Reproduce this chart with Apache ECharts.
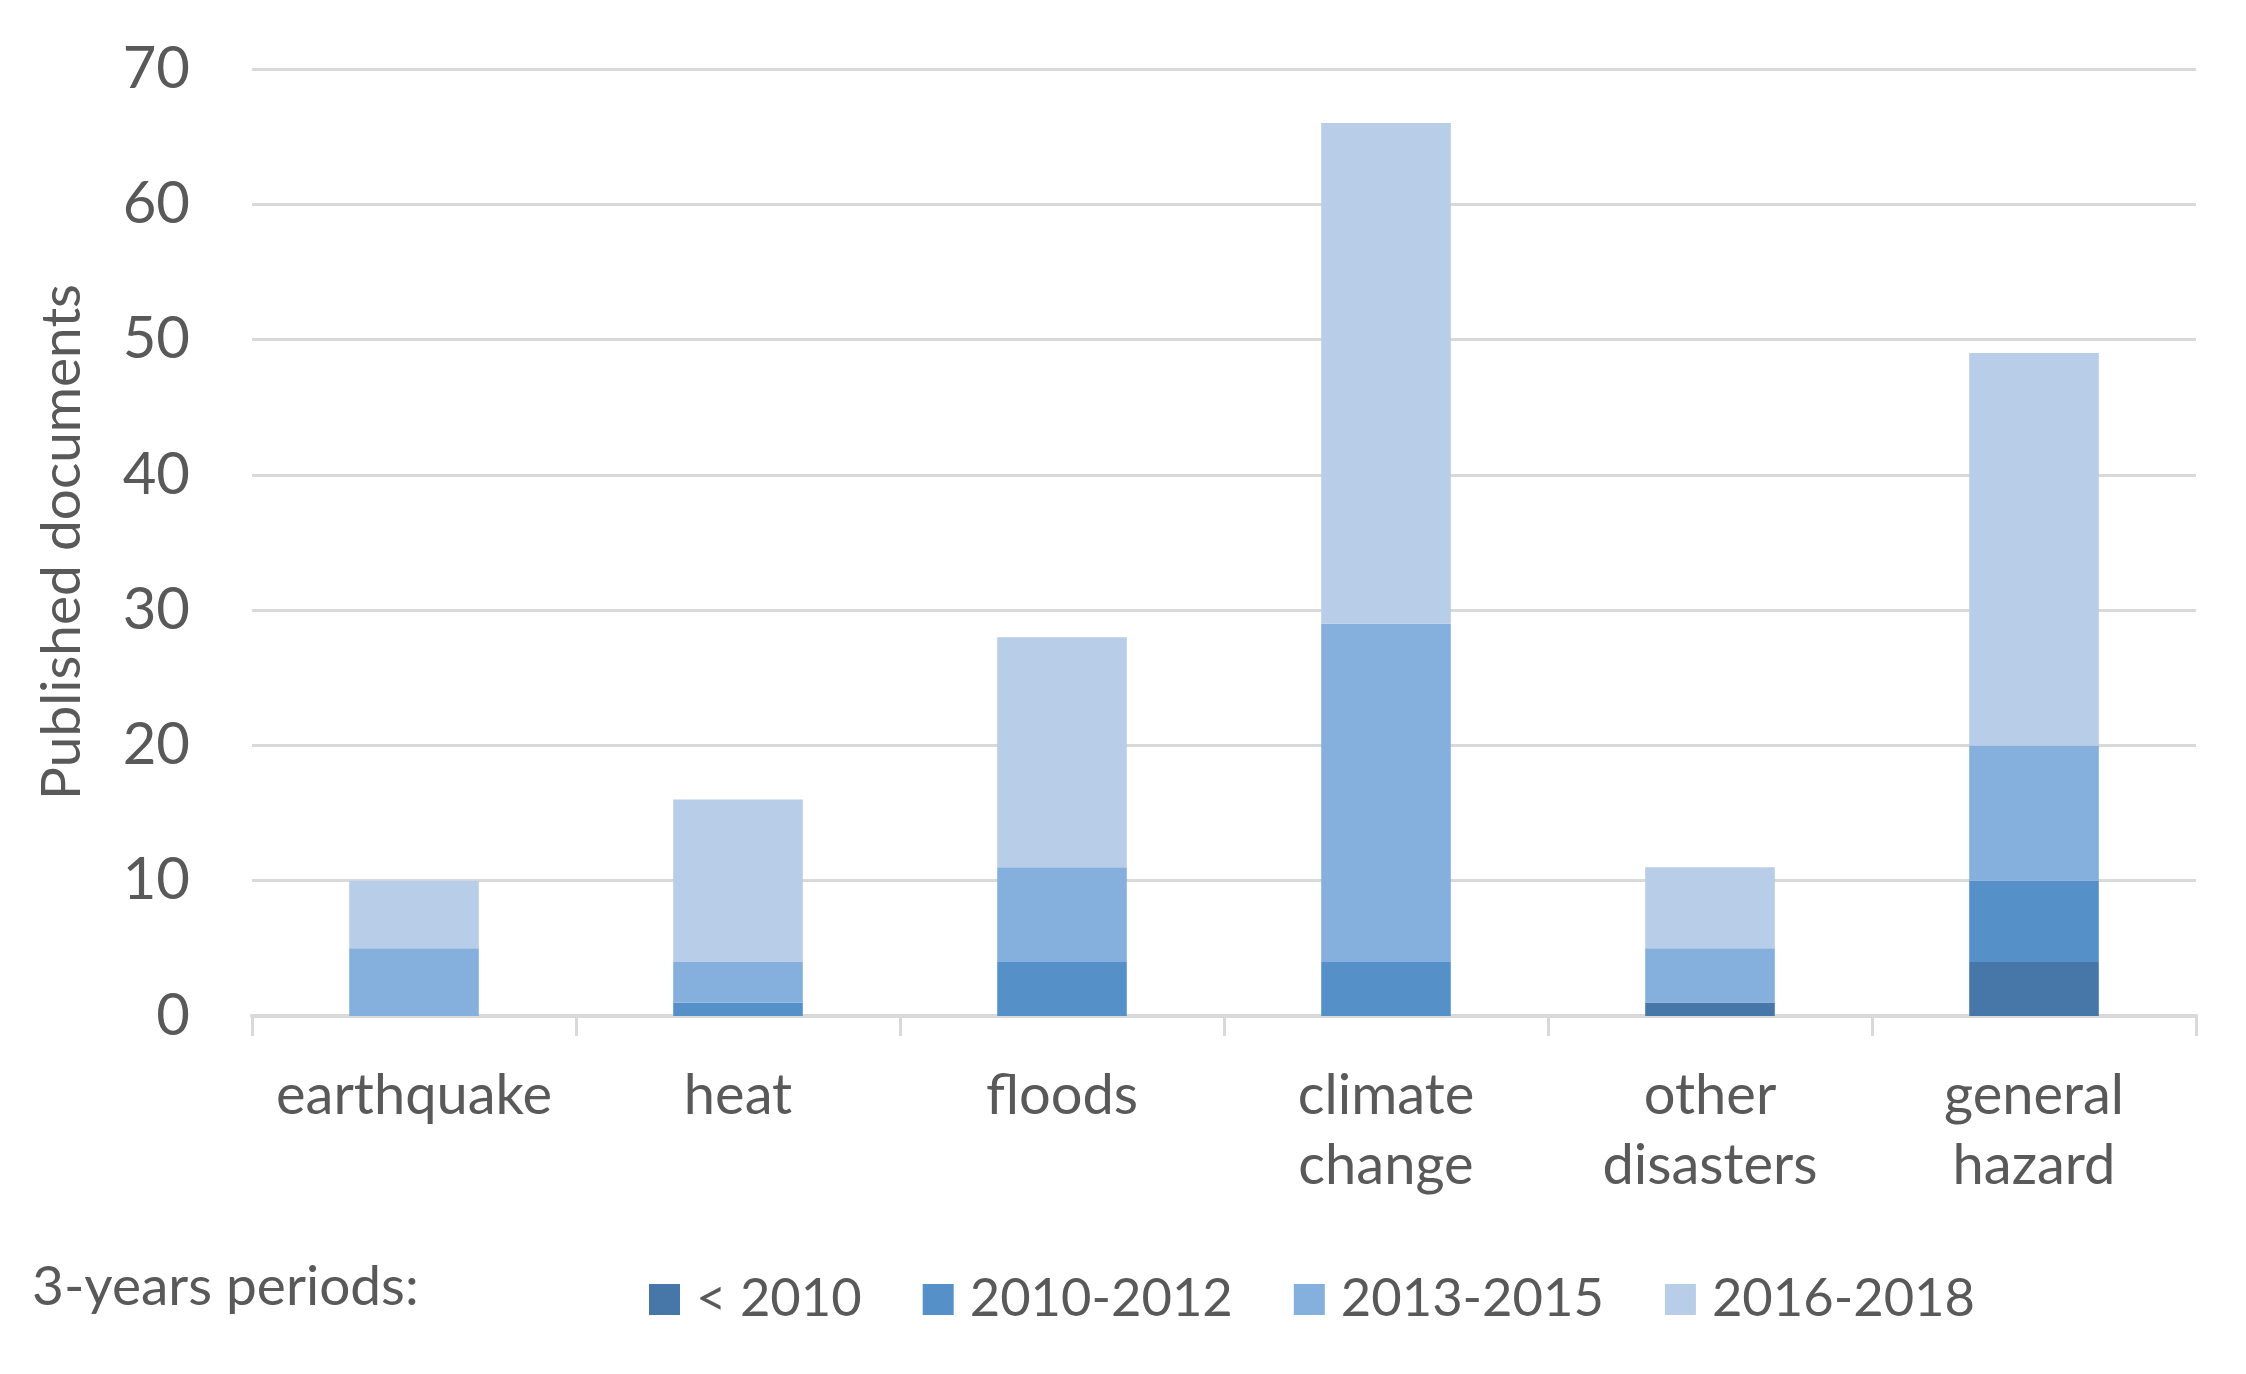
<!DOCTYPE html>
<html>
<head>
<meta charset="utf-8">
<script src="https://cdn.jsdelivr.net/npm/echarts@6/dist/echarts.min.js"></script>
<style>
html,body{margin:0;padding:0;background:#fff;}
#chart{width:2246px;height:1374px;}
</style>
</head>
<body>
<div id="chart"></div>
<script>
const categories = ['earthquake', 'heat', 'floods', 'climate\nchange', 'other\ndisasters', 'general\nhazard'];
const periodNames = ['< 2010', '2010-2012', '2013-2015', '2016-2018'];
const before2010 = [0, 0, 0, 0, 1, 4];
const p2010_2012 = [0, 1, 4, 4, 0, 6];
const p2013_2015 = [5, 3, 7, 25, 4, 10];
const p2016_2018 = [5, 12, 17, 37, 6, 29];
const yTicks = [0, 10, 20, 30, 40, 50, 60, 70];
const colors = ['#4677a8', '#5591c8', '#85afdc', '#b8cde8'];
const seriesValues = [before2010, p2010_2012, p2013_2015, p2016_2018];

const FONT = 'Lato';
const TEXT = '#595959';

const chart = echarts.init(document.getElementById('chart'), null, {renderer: 'canvas'});
chart.setOption({
  animation: false,
  backgroundColor: '#ffffff',
  color: colors,
  grid: {left: 252, right: 50, top: 69, bottom: 358, containLabel: false},
  legend: {
    left: 649, top: 1273,
    padding: 0,
    itemWidth: 31, itemHeight: 31,
    itemGap: 61,
    icon: 'rect',
    data: periodNames,
    textStyle: {fontFamily: FONT, fontSize: 52.5, color: TEXT, padding: [0, 0, 0, 11]}
  },
  graphic: [
    {type: 'text', left: 32, top: 1260,
     style: {text: '3-years periods:', font: '55px Lato', fill: TEXT}},
    {type: 'text', x: 62, y: 542, rotation: Math.PI / 2,
     style: {text: 'Published documents', font: '55px Lato', fill: TEXT, align: 'center', verticalAlign: 'middle'}}
  ],
  xAxis: {
    type: 'category',
    data: categories,
    axisLine: {show: true, lineStyle: {color: '#d9d9d9', width: 4}},
    axisTick: {show: true, length: 20, lineStyle: {color: '#d9d9d9', width: 3}},
    axisLabel: {fontFamily: FONT, fontSize: 56, lineHeight: 70, color: TEXT, margin: 45, interval: 0}
  },
  yAxis: {
    type: 'value',
    min: yTicks[0], max: yTicks[yTicks.length - 1], interval: 10,
    axisLine: {show: false},
    axisTick: {show: false},
    splitLine: {lineStyle: {color: '#d9d9d9', width: 3}},
    axisLabel: {fontFamily: FONT, fontSize: 58, color: TEXT, margin: 62}
  },
  series: periodNames.map((name, i) => ({
    name: name,
    type: 'bar',
    stack: 'total',
    barWidth: '40%',
    data: seriesValues[i],
    itemStyle: {color: colors[i]}
  }))
});
</script>
</body>
</html>
